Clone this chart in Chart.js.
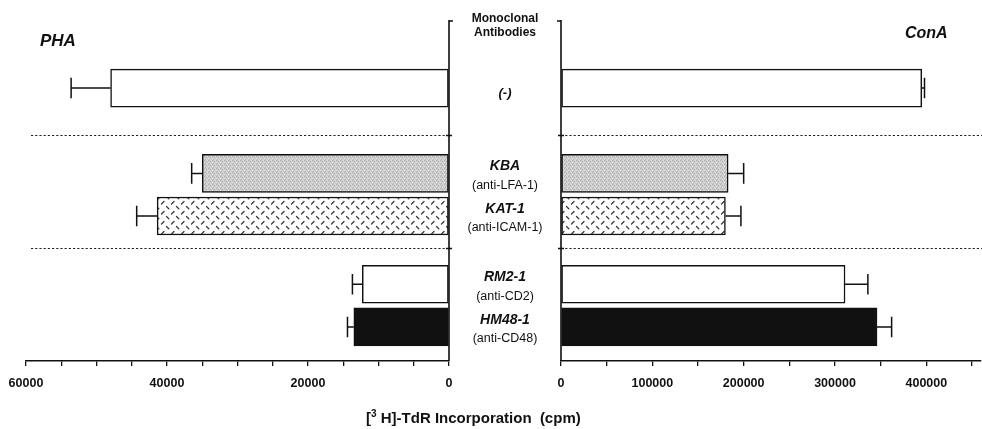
<!DOCTYPE html>
<html>
<head>
<meta charset="utf-8">
<script src="https://cdn.jsdelivr.net/npm/chart.js@4.4.1/dist/chart.umd.min.js"></script>
<style>
  html, body { margin: 0; padding: 0; background: #fff; }
  #wrap { position: relative; width: 982px; height: 429px; overflow: hidden;
          font-family: "Liberation Sans", Arial, sans-serif; color: #111; }
  canvas { position: absolute; top: 0; }
  #pha { left: 0; }
  #cona { left: 540px; }
  .txt { position: absolute; font-weight: bold; white-space: nowrap; line-height: 1; }
</style>
</head>
<body>
<div id="wrap">
  <canvas id="pha" width="561" height="429"></canvas>
  <canvas id="cona" width="442" height="429"></canvas>
  <div class="txt" style="left:40px; top:32px; font-size:17px; font-style:italic;">PHA</div>
  <div class="txt" style="left:905px; top:25px; font-size:16px; font-style:italic;">ConA</div>
  <div class="txt" style="left:449px; top:11px; width:112px; text-align:center; font-size:12px; line-height:14px;">Monoclonal<br>Antibodies</div>
  <div class="txt" style="left:366px; top:409px; width:200px; text-align:center; font-size:15px;">[<sup style="font-size:10px;">3</sup> H]-TdR Incorporation&nbsp; (cpm)</div>
</div>
<script>
// rows, top to bottom
const antibodies     = ['(-)', 'KBA', 'KAT-1', 'RM2-1', 'HM48-1'];
const targets        = ['', '(anti-LFA-1)', '(anti-ICAM-1)', '(anti-CD2)', '(anti-CD48)'];
const rowSlots       = [0, 2, 3, 4.6, 5.6];   // gaps between the three groups
const separatorSlots = [1.1, 3.75];           // dotted lines between groups

// [3H]-TdR incorporation, cpm
const phaValues  = [48000, 35000, 41400, 12300, 13500];
const phaErrors  = [5600, 1500, 2900, 1400, 900];
const conaValues = [395000, 183000, 180000, 311000, 346000];
const conaErrors = [3000, 17000, 17000, 25000, 16000];

const phaTickValues  = [0, 5000, 10000, 15000, 20000, 25000, 30000, 35000, 40000, 45000, 50000, 55000, 60000];
const phaTickLabels  = [0, 20000, 40000, 60000];
const conaTickValues = [0, 50000, 100000, 150000, 200000, 250000, 300000, 350000, 400000, 450000];
const conaTickLabels = [0, 100000, 200000, 300000, 400000];
const phaMax  = 60000;
const conaMax = 459000;

function stipple() {
    const c = document.createElement('canvas');
    c.width = 4; c.height = 4;
    const g = c.getContext('2d');
    g.fillStyle = '#cdcdcd'; g.fillRect(0, 0, 4, 4);
    g.fillStyle = '#b0b0b0';
    [[0, 0], [2, 1], [1, 3]].forEach(p => g.fillRect(p[0], p[1], 1, 1));
    g.fillStyle = '#dedede';
    [[2, 3], [0, 2], [3, 0]].forEach(p => g.fillRect(p[0], p[1], 1, 1));
    return g.createPattern(c, 'repeat');
}

function diamondPlate() {
    const c = document.createElement('canvas');
    c.width = 10; c.height = 10;
    const g = c.getContext('2d');
    g.fillStyle = '#fff'; g.fillRect(0, 0, 10, 10);
    g.strokeStyle = '#3a3a3a'; g.lineWidth = 1.3; g.lineCap = 'round';
    g.beginPath();
    g.moveTo(1.5, 4); g.lineTo(4, 1.5);
    g.moveTo(6.5, 6.5); g.lineTo(8.8, 8.8);
    g.stroke();
    return g.createPattern(c, 'repeat');
}

const fills = ['#ffffff', stipple(), diamondPlate(), '#ffffff', '#111111'];

const errorBars = {
    id: 'errorBars',
    afterDatasetsDraw(chart, args, opts) {
        const meta = chart.getDatasetMeta(0);
        const xs   = chart.scales.x;
        const ctx  = chart.ctx;
        ctx.save();
        ctx.strokeStyle = '#111';
        ctx.lineWidth   = 1.5;
        meta.data.forEach((bar, i) => {
            const end  = xs.getPixelForValue(opts.values[i] + opts.errors[i]);
            const half = bar.height * 0.27;
            ctx.beginPath();
            ctx.moveTo(bar.x, bar.y); ctx.lineTo(end, bar.y);
            ctx.moveTo(end, bar.y - half); ctx.lineTo(end, bar.y + half);
            ctx.stroke();
        });
        ctx.restore();
    }
};

const sepY = (y, s) => Math.round(y.getPixelForValue(s)) + 0.5;

const frame = {
    id: 'frame',
    beforeDatasetsDraw(chart, args, opts) {
        const {ctx, chartArea: a, scales: {y}} = chart;
        ctx.save();
        ctx.strokeStyle = '#222';
        ctx.lineWidth   = 1.2;
        ctx.setLineDash([2.2, 2]);
        separatorSlots.forEach(s => {
            const yy = sepY(y, s);
            ctx.beginPath();
            ctx.moveTo(opts.left ? a.left + 5 : a.left, yy);
            ctx.lineTo(opts.left ? a.right : chart.width, yy);
            ctx.stroke();
        });
        ctx.restore();
    },
    afterDatasetsDraw(chart, args, opts) {
        const {ctx, chartArea: a, scales: {x, y}} = chart;
        const x0  = x.getPixelForValue(0);
        const dir = opts.left ? 1 : -1;   // towards the label column
        ctx.save();
        ctx.strokeStyle = '#111';
        ctx.lineWidth   = 1.6;
        ctx.beginPath();
        ctx.moveTo(x0, a.top - 2); ctx.lineTo(x0, a.bottom);
        ctx.moveTo(x0, a.top - 1); ctx.lineTo(x0 + dir * 4, a.top - 1);
        separatorSlots.forEach(s => {
            const yy = sepY(y, s);
            ctx.moveTo(x0 - 3, yy); ctx.lineTo(x0 + 3, yy);
        });
        ctx.stroke();

        if (opts.left) {
            const cx = a.right + 56;
            ctx.fillStyle = '#111';
            ctx.textAlign = 'center';
            ctx.textBaseline = 'middle';
            antibodies.forEach((name, i) => {
                const yy = y.getPixelForValue(rowSlots[i]);
                if (targets[i]) {
                    ctx.font = 'italic bold 14px "Liberation Sans", Arial, sans-serif';
                    ctx.fillText(name, cx, yy - 7);
                    ctx.font = '12.5px "Liberation Sans", Arial, sans-serif';
                    ctx.fillText(targets[i], cx, yy + 12);
                } else {
                    ctx.font = 'italic bold 13px "Liberation Sans", Arial, sans-serif';
                    ctx.fillText(name, cx, yy + 5);
                }
            });
        }
        ctx.restore();
    }
};

function makeChart(id, values, errors, max, tickValues, tickLabels, left) {
    return new Chart(document.getElementById(id), {
        type: 'bar',
        data: {
            datasets: [{
                data: values.map((v, i) => ({x: v, y: rowSlots[i]})),
                backgroundColor: fills,
                borderColor: '#111',
                borderWidth: 1.5,
                borderSkipped: false,
                barThickness: 38
            }]
        },
        options: {
            indexAxis: 'y',
            responsive: false,
            animation: false,
            layout: {padding: left ? {left: 26, right: 112, top: 22, bottom: 36}
                                    : {left: 21, right: 0, top: 22, bottom: 36}},
            plugins: {
                legend: {display: false},
                tooltip: {enabled: false},
                errorBars: {values, errors},
                frame: {left}
            },
            scales: {
                y: {type: 'linear', min: -1.55, max: 6.4, reverse: true, offset: false, display: false},
                x: {
                    type: 'linear',
                    bounds: 'data',
                    min: 0,
                    max: max,
                    reverse: left,
                    afterBuildTicks(scale) { scale.ticks = tickValues.map(v => ({value: v})); },
                    afterFit(scale) { scale.height = 32; },
                    border: {display: true, color: '#111', width: 1.5},
                    grid: {drawOnChartArea: false, drawTicks: true, tickLength: 5, color: '#111', lineWidth: 1.3},
                    ticks: {
                        autoSkip: false,
                        maxRotation: 0,
                        padding: 10,
                        color: '#111',
                        font: {family: '"Liberation Sans", Arial, sans-serif', size: 12.5, weight: 'bold'},
                        callback: v => (tickLabels.includes(v) ? String(v) : '')
                    }
                }
            }
        },
        plugins: [frame, errorBars]
    });
}

makeChart('pha', phaValues, phaErrors, phaMax, phaTickValues, phaTickLabels, true);
makeChart('cona', conaValues, conaErrors, conaMax, conaTickValues, conaTickLabels, false);
</script>
</body>
</html>
